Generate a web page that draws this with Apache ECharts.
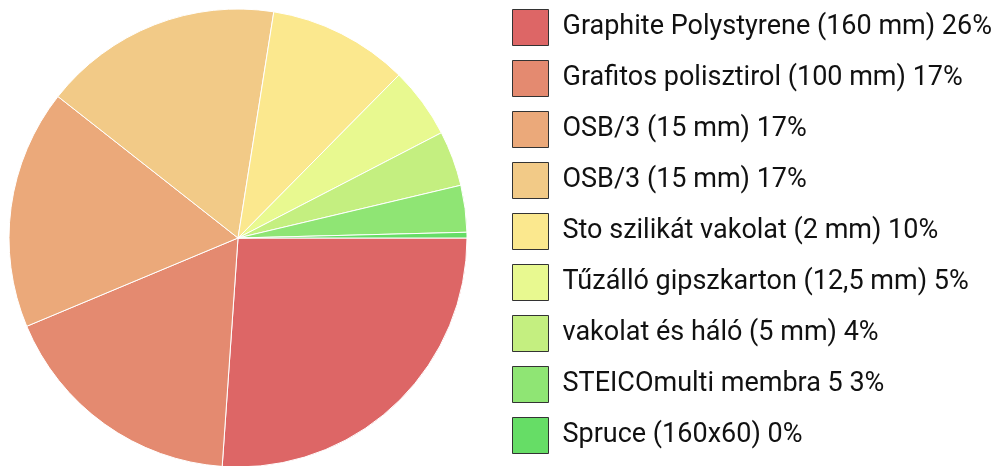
<!DOCTYPE html>
<html>
<head>
<meta charset="utf-8">
<script src="https://cdn.jsdelivr.net/npm/echarts@6/dist/echarts.min.js"></script>
<style>
  html, body { margin: 0; padding: 0; background: #fff; }
  #chart { width: 994px; height: 466px; }
</style>
</head>
<body>
<div id="chart"></div>
<script>
// rétegek (layers) and their share
var labels = [
  "Graphite Polystyrene (160 mm) 26%",
  "Grafitos polisztirol (100 mm) 17%",
  "OSB/3 (15 mm) 17%",
  "OSB/3 (15 mm) 17%",
  "Sto szilikát vakolat (2 mm) 10%",
  "Tűzálló gipszkarton (12,5 mm) 5%",
  "vakolat és háló (5 mm) 4%",
  "STEICOmulti membra 5 3%",
  "Spruce (160x60) 0%"
];
var values = [26.1, 17.6, 16.9, 16.9, 9.9, 5.0, 3.9, 3.3, 0.4];
var colors = ["#dd6666", "#e48a70", "#eba97a", "#f2ca87", "#fbe88e", "#e8f990", "#c4ef80", "#8fe574", "#66dd66"];

// two OSB rows share a label, so use index keys as names
var keys = labels.map(function (l, i) { return "k" + i; });

var chart = echarts.init(document.getElementById("chart"));
var option = {
  animation: false,
  color: colors,
  legend: {
    orient: "vertical",
    left: 507,
    top: 4,
    itemWidth: 36,
    itemHeight: 36,
    itemGap: 14,
    icon: "rect",
    itemStyle: { borderColor: "#333", borderWidth: 1 },
    textStyle: {
      fontFamily: "Roboto",
      fontSize: 27,
      lineHeight: 36,
      color: "#111",
      padding: [0, 0, 0, 9]
    },
    formatter: function (name) {
      return labels[keys.indexOf(name)];
    },
    data: keys
  },
  series: [
    {
      type: "pie",
      center: [238, 238],
      radius: [0, 229],
      startAngle: 0,
      clockwise: true,
      avoidLabelOverlap: false,
      label: { show: false },
      labelLine: { show: false },
      itemStyle: { borderColor: "#fff", borderWidth: 1 },
      emphasis: { disabled: true },
      data: keys.map(function (k, i) {
        return { name: k, value: values[i] };
      })
    }
  ]
};
chart.setOption(option);
</script>
</body>
</html>
